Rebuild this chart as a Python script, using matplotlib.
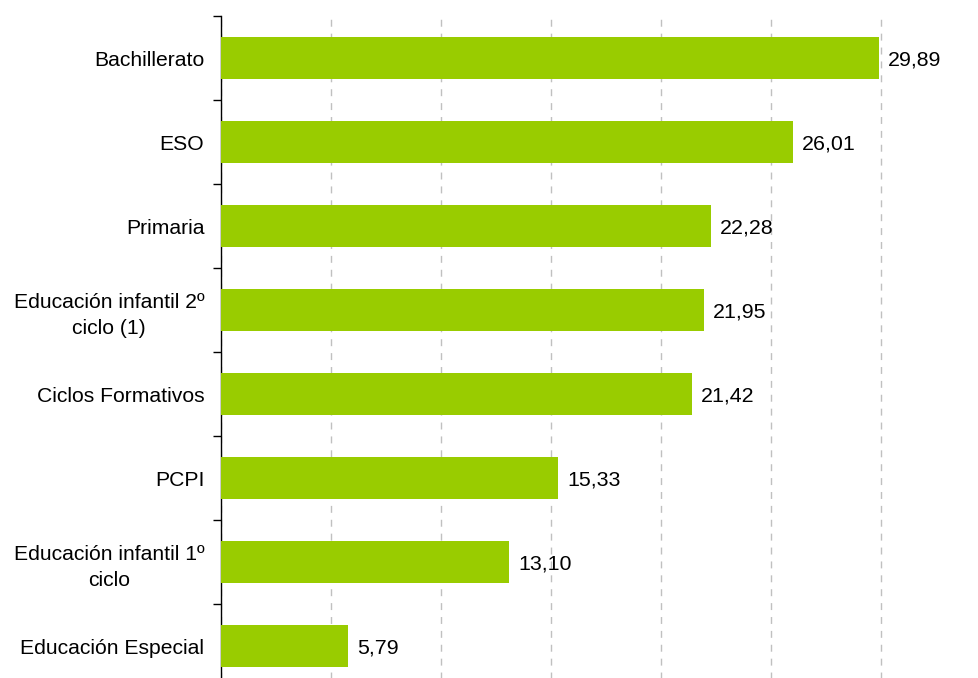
import matplotlib
matplotlib.use("Agg")
import matplotlib.pyplot as plt
import numpy as np

categories = [
    "Bachillerato",
    "ESO",
    "Primaria",
    "Educación infantil 2º\nciclo (1)",
    "Ciclos Formativos",
    "PCPI",
    "Educación infantil 1º\nciclo",
    "Educación Especial",
]
values = [29.89, 26.01, 22.28, 21.95, 21.42, 15.33, 13.10, 5.79]
x_ticks = [0, 5, 10, 15, 20, 25, 30, 35]

plt.rcParams["font.family"] = ["Liberation Sans", "DejaVu Sans"]

W, H = 979, 678
fig = plt.figure(figsize=(W / 100, H / 100), dpi=100)
ax = fig.add_axes([221 / W, -10 / H, 770 / W, 672 / H])

y = np.arange(len(categories))
ax.barh(y, values, height=0.5, color="#99CC00", zorder=3)

for yi, v in zip(y, values):
    ax.text(v + 0.4, yi + 0.02, f"{v:.2f}".replace(".", ","), va="center", ha="left",
            fontsize=15.4, color="black", zorder=4)

ax.set_xlim(0, 35)
ax.set_ylim(len(categories) - 0.5, -0.5)

ax.set_xticks(x_ticks)
ax.tick_params(axis="x", length=0, labelbottom=False)
ax.xaxis.grid(True, color="#C0C0C0", linestyle=(0, (5, 5)), linewidth=1.0, zorder=0)

ax.set_yticks(y)
ax.set_yticklabels(categories, fontsize=15.2, multialignment="center", linespacing=1.5)
ax.set_yticks(np.arange(len(categories) + 1) - 0.5, minor=True)
ax.tick_params(axis="y", which="major", length=0, pad=12)
ax.tick_params(axis="y", which="minor", length=6, width=1, color="black")

for s in ["top", "right", "bottom"]:
    ax.spines[s].set_visible(False)
ax.spines["left"].set_color("black")
ax.spines["left"].set_linewidth(1)

fig.savefig("out.png", dpi=100)
